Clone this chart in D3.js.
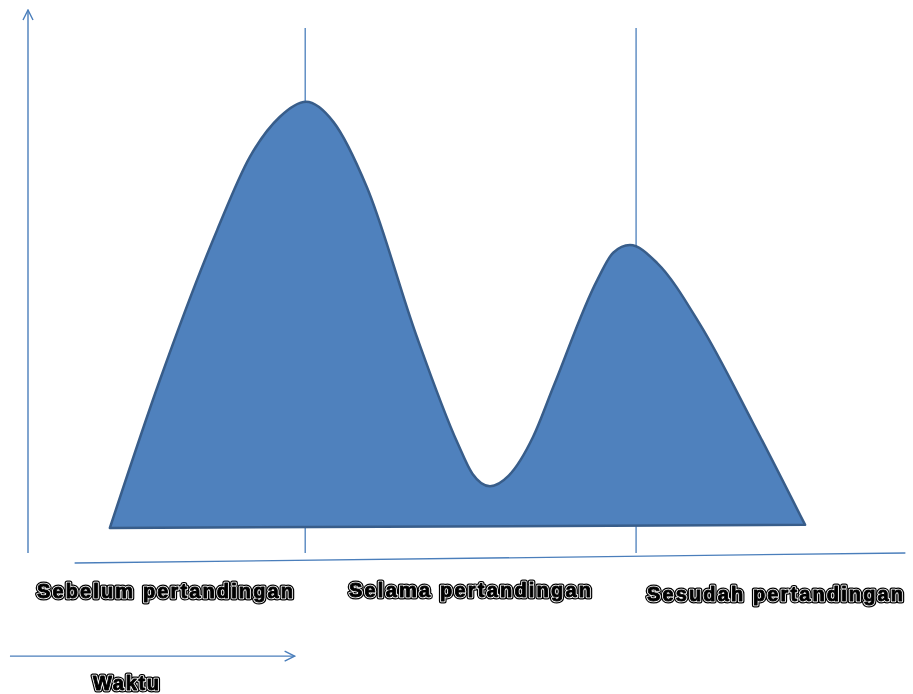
<!DOCTYPE html>
<html>
<head>
<meta charset="utf-8">
<script src="https://cdn.jsdelivr.net/npm/d3@7"></script>
<style>
  html, body { margin: 0; padding: 0; background: #fff; }
  svg { display: block; }
  .label { filter: grayscale(100%); }
</style>
</head>
<body>
<script>
// stage labels along the time axis
const categories = ["Sebelum pertandingan", "Selama pertandingan", "Sesudah pertandingan"];
const timeLabel = "Waktu";

// outline of the intensity curve (time, level)
const curveTime  = [9.3, 15.0, 21.5, 25.2, 28.6, 31.6, 34.7, 38.5, 44.1, 48.8, 50.5, 52.5,
                    54.6, 57.4, 59.7, 64.7, 66.5, 68.4, 71.5, 76.4, 82.4, 88.3];
const curveLevel = [4.6, 31.9, 59.5, 72.9, 80.3, 83.1, 79.4, 67.4, 40.2, 20.3, 14.6, 12.3,
                    14.2, 21.4, 30.6, 50.3, 55.3, 56.7, 53.4, 42.0, 23.9, 5.2];

// vertical markers at the two peaks
const markerTime = [31.5, 69.1];

const width = 913, height = 694;

const x = d3.scaleLinear().domain([0, 100]).range([28, 908]);
const y = d3.scaleLinear().domain([0, 100]).range([553, 10]);

const svg = d3.select("body").append("svg")
    .attr("width", width)
    .attr("height", height);

const axisColor = "#4a7ebb";

let defs = svg.append("defs");
defs.append("marker")
    .attr("id", "arrow")
    .attr("viewBox", "0 0 12 12")
    .attr("refX", 11)
    .attr("refY", 6)
    .attr("markerWidth", 12)
    .attr("markerHeight", 12)
    .attr("markerUnits", "userSpaceOnUse")
    .attr("orient", "auto")
    .append("path")
    .attr("d", "M1,1 L11,6 L1,11")
    .attr("fill", "none")
    .attr("stroke", axisColor)
    .attr("stroke-width", 1.4);

// vertical axis with arrow
svg.append("line")
    .attr("x1", x(0)).attr("y1", y(0))
    .attr("x2", x(0)).attr("y2", y(100))
    .attr("stroke", axisColor)
    .attr("stroke-width", 1.4)
    .attr("marker-end", "url(#arrow)");

// slightly tilted baseline
svg.append("line")
    .attr("x1", x(5.3)).attr("y1", y(-1.84))
    .attr("x2", x(99.7)).attr("y2", y(0))
    .attr("stroke", axisColor)
    .attr("stroke-width", 1.3);

// peak markers
svg.selectAll(".marker")
    .data(markerTime)
    .enter()
    .append("line")
    .attr("class", "marker")
    .attr("x1", (d) => x(d)).attr("x2", (d) => x(d))
    .attr("y1", y(0)).attr("y2", y(96.7))
    .attr("stroke", axisColor)
    .attr("stroke-width", 1.3);

// the filled curve
let pts = curveTime.map((t, i) => [t, curveLevel[i]]);
let line = d3.line()
    .x((d) => x(d[0]))
    .y((d) => y(d[1]))
    .curve(d3.curveMonotoneX);

svg.append("path")
    .attr("d", line(pts) + "Z")
    .attr("fill", "#4f81bd")
    .attr("stroke", "#385d8a")
    .attr("stroke-width", 2.5)
    .attr("stroke-linejoin", "round");

// time arrow
svg.append("line")
    .attr("x1", x(-2.05)).attr("y1", y(-19))
    .attr("x2", x(30.3)).attr("y2", y(-19))
    .attr("stroke", axisColor)
    .attr("stroke-width", 1.3)
    .attr("marker-end", "url(#arrow)");

// outlined bold labels: black rim, white ring, heavy black glyph
function outlinedText(sel) {
    [["#000", 5], ["#fff", 2.6], ["#000", 0.9]].forEach(([stroke, w]) => {
        sel.each(function(d) {
            d3.select(this).append("text")
                .attr("font-family", "'Liberation Sans', Arial, sans-serif")
                .attr("font-weight", "bold")
                .attr("font-size", 20)
                .attr("x", d.x)
                .attr("y", d.y)
                .attr("textLength", d.len)
                .attr("lengthAdjust", "spacing")
                .attr("fill", "#000")
                .attr("stroke", stroke)
                .attr("stroke-width", w)
                .attr("stroke-linejoin", "round")
                .text(d.text);
        });
    });
}

let band = d3.scaleBand().domain(categories).range([37, 952]);
let labelLen = [256, 242, 256];
let labelY = [598, 597, 601];

let labels = categories.map((c, i) => ({
    text: c, x: band(c) + (i == 1 ? 7 : 0), y: labelY[i], len: labelLen[i]
}));
labels.push({ text: timeLabel, x: 93, y: 690, len: 66 });

svg.selectAll(".label")
    .data(labels)
    .enter()
    .append("g")
    .attr("class", "label")
    .call(outlinedText);
</script>
</body>
</html>
